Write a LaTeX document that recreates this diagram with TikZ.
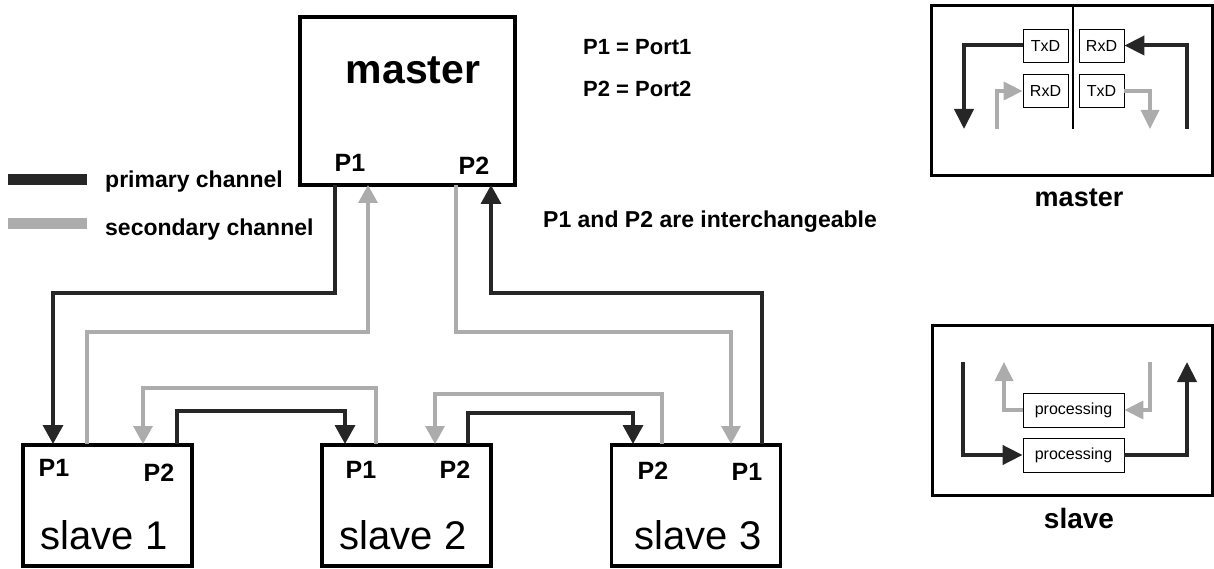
\documentclass[tikz,border=0pt]{standalone}
\usepackage{fontspec}
\setmainfont{Liberation Sans}
\usetikzlibrary{arrows.meta,positioning}
\definecolor{prim}{RGB}{38,38,38}
\definecolor{secd}{RGB}{172,172,172}
\newcommand{\fsz}[1]{\fontsize{#1}{#1}\selectfont}

\begin{document}
\begin{tikzpicture}[x=1pt,y=-1pt,
box/.style={draw,line width=3.5pt,inner sep=0pt},
smallbox/.style={draw,line width=0.8pt,inner sep=0pt,font=\fsz{16}},
lbl/.style={inner sep=0pt,font=\bfseries\fsz{23}},
port/.style={inner sep=0pt,font=\bfseries\fsz{25}},
pri/.style={draw=prim,line width=3.5pt},
sec/.style={draw=secd,line width=3.5pt},
parr/.style={-{Triangle[length=19pt,width=20pt]}},
sarr/.style={-{Triangle[length=18pt,width=19pt]}},
pparr/.style={line width=4pt,-{Triangle[length=20pt,width=19pt]}},
psarr/.style={line width=3.5pt,-{Triangle[length=19pt,width=18pt]}}]
\useasboundingbox (0,0) rectangle (1214,569);

%master station
\node[box,minimum width=215pt,minimum height=168pt] (master) at (407.5,101) {};
\node[inner sep=0pt,font=\bfseries\fsz{41}] (mname) at (413,70) {master};
\node[port] (mp1) at (350,163) {P1};
\node[port] (mp2) at (474,166) {P2};

%legend and notes
\node[fill=prim,minimum width=79pt,minimum height=11pt,inner sep=0pt] (legp) at (47.5,179.5) {};
\node[lbl,anchor=base west] (legpt) at (105,188) {primary channel};
\node[fill=secd,minimum width=79pt,minimum height=11pt,inner sep=0pt] (legs) at (47.5,224) {};
\node[lbl,anchor=base west] (legst) at (105,236) {secondary channel};
\node[lbl,font=\bfseries\fsz{22},anchor=base west] (pd1) at (583,55) {P1 = Port1};
\node[lbl,font=\bfseries\fsz{22},anchor=base west] (pd2) at (583,97) {P2 = Port2};
\node[lbl,anchor=base west] (swap) at (543,228) {P1 and P2 are interchangeable};

%slave stations: number/x of box/x of name
\foreach \i/\x/\lx in {1/107.5/104,2/406.5/403,3/696/698}{
	\node[box,minimum width=169pt,minimum height=121pt] (s\i) at (\x,505.5) {};
	\node[inner sep=0pt,font=\fsz{40}] (sn\i) at (\lx,535) {slave \i};
}
\node[port] (s1p1) at (54,468) {P1};
\node[port] (s1p2) at (159,473) {P2};
\node[port] (s2p1) at (361,470) {P1};
\node[port] (s2p2) at (455,470) {P2};
\node[port] (s3p2) at (653,471) {P2};
\node[port] (s3p1) at (747,472) {P1};

%ends of the channels on the boxes
\coordinate (mpout) at (335,185);
\coordinate (msin) at (368,185);
\coordinate (msout) at (456,185);
\coordinate (mpin) at (491,185);
\foreach \i/\a/\b/\c/\d in {1/53/87/143/177,2/345/376/435/468,3/633/662/731/762}{
	\coordinate (pin\i) at (\a,444);
	\coordinate (sout\i) at (\b,444);
	\coordinate (sin\i) at (\c,444);
	\coordinate (pout\i) at (\d,444);
}

%ring
\draw[pri,parr] (mpout) -- ++(0,108) -| (pin1);
\draw[sec,sarr] (sout1) -- ++(0,-112) -| (msin);
\draw[sec,sarr] (msout) -- ++(0,147) -| (sin3);
\draw[pri,parr] (pout3) -- ++(0,-151) -| (mpin);
\draw[sec,sarr] (sout2) -- ++(0,-56) -| (sin1);
\draw[pri,parr] (pout1) -- ++(0,-33) -| (pin2);
\draw[sec,sarr] (sout3) -- ++(0,-50) -| (sin2);
\draw[pri,parr] (pout2) -- ++(0,-31) -| (pin3);

%master detail
\node[box,line width=3pt,minimum width=281pt,minimum height=170pt] (pm) at (1071.5,91) {};
\node[lbl,font=\bfseries\fsz{27}] (pmname) at (1079,198) {master};
\draw[line width=2pt] (1073,7) -- (1073,129);
\node[smallbox,minimum width=45pt,minimum height=33pt] (txa) at (1045.5,45.5) {TxD};
\node[smallbox,minimum width=45pt,minimum height=33pt] (rxa) at (1101.5,45.5) {RxD};
\node[smallbox,minimum width=45pt,minimum height=33pt] (rxb) at (1045.5,91) {RxD};
\node[smallbox,minimum width=45pt,minimum height=33pt] (txb) at (1101.5,91) {TxD};
\coordinate (mdl) at (964,129);
\coordinate (mdr) at (1187,129);
\coordinate (mgl) at (997,129);
\coordinate (mgr) at (1150,129);
\draw[pri,pparr] (txa.west) -| (mdl);
\draw[pri,pparr] (mdr) |- (rxa.east);
\draw[sec,psarr] (mgl) |- (rxb.west);
\draw[sec,psarr] (txb.east) -| (mgr);

%slave detail
\node[box,line width=3pt,minimum width=280pt,minimum height=170pt] (ps) at (1072,410) {};
\node[lbl,font=\bfseries\fsz{28}] (psname) at (1079,518) {slave};
\node[smallbox,minimum width=101pt,minimum height=34pt] (pra) at (1073.5,410) {processing};
\node[smallbox,minimum width=101pt,minimum height=34pt] (prb) at (1073.5,455) {processing};
\coordinate (sdl) at (963,362);
\coordinate (sdr) at (1187,362);
\coordinate (sgl) at (1004,362);
\coordinate (sgr) at (1150,362);
\draw[pri,pparr] (sdl) |- (prb.west);
\draw[pri,pparr] (prb.east) -| (sdr);
\draw[sec,psarr] (sgr) |- (pra.east);
\draw[sec,psarr] (pra.west) -| (sgl);
\end{tikzpicture}
\end{document}
